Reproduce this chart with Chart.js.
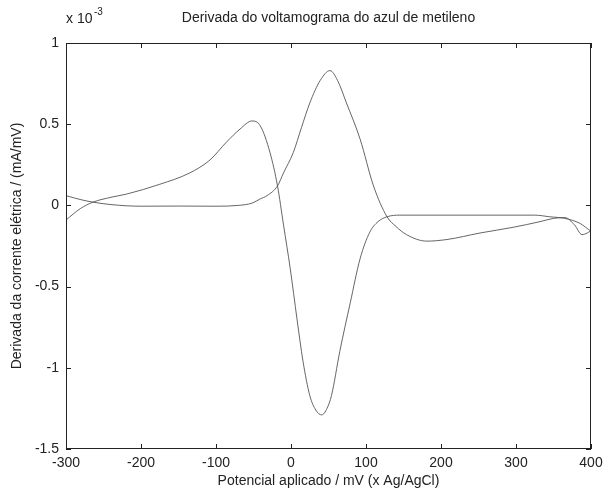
<!DOCTYPE html>
<html>
<head>
<meta charset="utf-8">
<script src="https://cdn.jsdelivr.net/npm/chart.js@4.4.1/dist/chart.umd.min.js"></script>
<style>
    html, body { margin: 0; padding: 0; background: #fff; }
    #wrap { width: 603px; height: 492px; position: relative; }
</style>
</head>
<body>
<div id="wrap"><canvas id="dv-chart"></canvas></div>
<script>
// potencial (mV) e derivada (x 10^-3 mA/mV)
const scanAX = [-300, -280, -264, -240, -200, -150, -100, -70, -52, -41, -32, -18, -10, 3, 14, 25, 39, 52, 62, 74, 92, 110, 128, 140, 154, 181, 208, 252, 296, 332, 350, 365, 378, 388, 395, 400];
const scanAY = [0.06, 0.035, 0.02, 0.005, -0.005, -0.004, -0.005, 0.0, 0.014, 0.04, 0.06, 0.12, 0.2, 0.325, 0.48, 0.63, 0.77, 0.83, 0.77, 0.63, 0.41, 0.12, -0.07, -0.13, -0.18, -0.22, -0.21, -0.17, -0.135, -0.1, -0.08, -0.075, -0.12, -0.18, -0.17, -0.155];

const scanBX = [-300, -281, -264, -240, -219, -175, -135, -108, -86, -68, -52, -41, -28, -18, -10, -1, 8, 16, 25, 33, 41, 48, 54, 65, 79, 92, 105, 116, 128, 145, 200, 325, 345, 365, 385, 400];
const scanBY = [-0.09, -0.02, 0.02, 0.05, 0.07, 0.13, 0.2, 0.28, 0.39, 0.47, 0.52, 0.49, 0.325, 0.12, -0.12, -0.39, -0.7, -0.96, -1.17, -1.26, -1.29, -1.25, -1.17, -0.9, -0.6, -0.33, -0.165, -0.1, -0.07, -0.06, -0.06, -0.06, -0.07, -0.08, -0.11, -0.16];

const xTicks = [-300, -200, -100, 0, 100, 200, 300, 400];
const yTicks = [-1.5, -1, -0.5, 0, 0.5, 1];

const titleText = 'Derivada do voltamograma do azul de metileno';
const xLabel = 'Potencial aplicado / mV (x Ag/AgCl)';
const yLabel = 'Derivada da corrente elétrica / (mA/mV)';

const FONT = 'Liberation Sans, Arial, sans-serif';
const INK = '#222';
const LINE = 'rgba(85, 85, 85, 0.9)';

function toPoints(xs, ys) {
    return xs.map((x, i) => ({ x, y: ys[i] }));
}

// caixa estilo MATLAB: moldura + marcas para dentro nos quatro lados
const boxPlugin = {
    id: 'boxPlugin',
    afterDraw(chart) {
        const { ctx, chartArea: a, scales } = chart;
        const len = 5;
        ctx.save();
        ctx.strokeStyle = INK;
        ctx.lineWidth = 1;
        ctx.strokeRect(a.left + 0.5, a.top + 0.5, a.right - a.left - 1, a.bottom - a.top - 1);
        ctx.beginPath();
        xTicks.forEach((v) => {
            const px = Math.round(scales.x.getPixelForValue(v)) + 0.5;
            ctx.moveTo(px, a.bottom); ctx.lineTo(px, a.bottom - len);
            ctx.moveTo(px, a.top); ctx.lineTo(px, a.top + len);
        });
        yTicks.forEach((v) => {
            const py = Math.round(scales.y.getPixelForValue(v)) + 0.5;
            ctx.moveTo(a.left, py); ctx.lineTo(a.left + len, py);
            ctx.moveTo(a.right, py); ctx.lineTo(a.right - len, py);
        });
        ctx.stroke();

        ctx.fillStyle = INK;
        ctx.textBaseline = 'middle';
        ctx.font = `14px ${FONT}`;
        ctx.textAlign = 'center';
        ctx.fillText(titleText, (a.left + a.right) / 2, 18);
        ctx.textAlign = 'left';
        ctx.fillText('x 10', a.left, 19);
        ctx.font = `10px ${FONT}`;
        ctx.fillText('-3', a.left + 28, 12);
        ctx.restore();
    }
};

new Chart(document.getElementById('dv-chart'), {
    type: 'scatter',
    data: {
        datasets: [
            {
                label: 'varredura A',
                data: toPoints(scanAX, scanAY),
                showLine: true,
                borderColor: LINE,
                borderWidth: 1,
                pointRadius: 0,
                cubicInterpolationMode: 'monotone'
            },
            {
                label: 'varredura B',
                data: toPoints(scanBX, scanBY),
                showLine: true,
                borderColor: LINE,
                borderWidth: 1,
                pointRadius: 0,
                cubicInterpolationMode: 'monotone'
            }
        ]
    },
    options: {
        responsive: true,
        maintainAspectRatio: false,
        animation: false,
        layout: { padding: { top: 43, right: 12, left: 0, bottom: 0 } },
        plugins: {
            legend: { display: false },
            tooltip: { enabled: false }
        },
        scales: {
            x: {
                type: 'linear',
                min: -300,
                max: 400,
                afterFit: (s) => {
                    s.height = 43;
                    s.paddingLeft = 0;
                    s.paddingRight = 0;
                },
                afterBuildTicks: (s) => { s.ticks = xTicks.map((v) => ({ value: v })); },
                grid: { display: false, drawTicks: false },
                border: { display: false },
                ticks: {
                    color: INK,
                    font: { family: FONT, size: 14 },
                    padding: 6,
                    maxRotation: 0
                },
                title: {
                    display: true,
                    text: xLabel,
                    color: INK,
                    font: { family: FONT, size: 14 },
                    padding: 2
                }
            },
            y: {
                type: 'linear',
                min: -1.5,
                max: 1,
                afterFit: (s) => {
                    s.width = 66;
                    s.paddingTop = 0;
                    s.paddingBottom = 0;
                },
                afterBuildTicks: (s) => { s.ticks = yTicks.map((v) => ({ value: v })); },
                grid: { display: false, drawTicks: false },
                border: { display: false },
                ticks: {
                    color: INK,
                    font: { family: FONT, size: 14 },
                    padding: 7,
                    callback: (v) => String(v)
                },
                title: {
                    display: true,
                    text: yLabel,
                    color: INK,
                    font: { family: FONT, size: 14 },
                    padding: 9
                }
            }
        }
    },
    plugins: [boxPlugin]
});
</script>
</body>
</html>
